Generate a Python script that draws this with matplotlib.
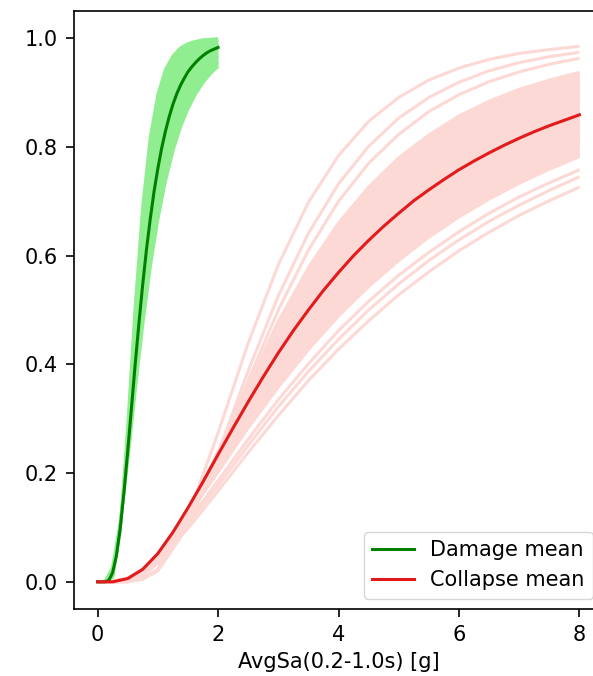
import matplotlib
matplotlib.use('Agg')
import matplotlib.pyplot as plt
import numpy as np

# ---- x grids ----
collapse_x = [0, 0.25, 0.5, 0.75, 1, 1.5, 2, 2.5, 3, 3.5, 4, 4.5, 5, 5.5, 6, 6.5, 7, 7.5, 8]
damage_x = [0, 0.125, 0.25, 0.375, 0.5, 0.625, 0.75, 0.875, 1, 1.125, 1.25, 1.375,
            1.5, 1.625, 1.75, 1.875, 2]
collapse_mean_x = [0, 0.25, 0.5, 0.75, 1, 1.25, 1.5, 1.75, 2, 2.25, 2.5, 2.75, 3, 3.25,
                   3.5, 3.75, 4, 4.25, 4.5, 4.75, 5, 5.25, 5.5, 5.75, 6, 6.25, 6.5,
                   6.75, 7, 7.25, 7.5, 7.75, 8]
damage_mean_x = [0, 0.0625, 0.125, 0.1875, 0.25, 0.3125, 0.375, 0.4375, 0.5, 0.5625,
                 0.625, 0.6875, 0.75, 0.8125, 0.875, 0.9375, 1, 1.0625, 1.125, 1.1875,
                 1.25, 1.3125, 1.375, 1.4375, 1.5, 1.5625, 1.625, 1.6875, 1.75,
                 1.8125, 1.875, 1.9375, 2]

# ---- collapse fragility samples (probability x1000) ----
collapse_samples = [
    [0, 0, 0, 5, 23, 120, 274, 439, 583, 698, 784, 847, 891, 923, 945, 961, 972, 979, 985],
    [0, 0, 0, 5, 20, 102, 237, 388, 526, 641, 732, 801, 853, 891, 919, 940, 955, 966, 974],
    [0, 0, 1, 6, 23, 104, 230, 370, 500, 610, 700, 770, 823, 865, 896, 920, 938, 952, 963],
    [0, 0, 2, 11, 34, 121, 240, 364, 479, 578, 660, 726, 780, 822, 857, 884, 906, 923, 937],
    [0, 0, 2, 14, 39, 125, 238, 354, 461, 554, 632, 697, 751, 794, 830, 859, 882, 902, 917],
    [0, 0, 4, 17, 44, 130, 237, 346, 446, 533, 608, 671, 724, 767, 803, 834, 859, 880, 897],
    [0, 0, 4, 18, 45, 128, 231, 335, 431, 516, 589, 651, 704, 748, 785, 816, 842, 864, 883],
    [0, 0, 5, 20, 47, 129, 228, 327, 419, 500, 571, 631, 683, 727, 764, 795, 822, 845, 865],
    [0, 0, 6, 22, 50, 131, 226, 320, 408, 486, 554, 613, 663, 707, 744, 776, 803, 827, 847],
    [0, 0, 6, 23, 51, 130, 221, 312, 397, 472, 539, 597, 647, 690, 727, 759, 787, 811, 832],
    [0, 0, 6, 23, 50, 125, 212, 299, 380, 454, 519, 575, 625, 668, 706, 738, 767, 792, 814],
    [0, 0, 7, 23, 51, 125, 211, 296, 376, 448, 512, 568, 618, 661, 698, 731, 760, 785, 807],
    [0, 1, 7, 24, 50, 121, 202, 283, 358, 427, 489, 543, 591, 634, 671, 704, 733, 759, 782],
    [0, 1, 6, 22, 46, 111, 186, 262, 335, 401, 462, 516, 564, 606, 644, 678, 708, 734, 758],
    [0, 0, 6, 20, 43, 105, 177, 251, 322, 387, 446, 500, 548, 591, 629, 663, 693, 720, 745],
    [0, 0, 6, 19, 40, 98, 167, 238, 306, 370, 428, 480, 528, 570, 609, 643, 674, 701, 726],
]

# ---- damage fragility samples (probability x1000) ----
damage_samples = [
    [0, 0, 8, 93, 286, 508, 692, 818, 896, 942, 967, 982, 990, 994, 997, 998, 999],
    [0, 0, 11, 95, 266, 463, 633, 760, 847, 904, 940, 963, 977, 985, 991, 994, 996],
    [0, 0, 15, 98, 252, 427, 584, 708, 799, 863, 907, 937, 957, 971, 980, 986, 990],
    [0, 0, 18, 101, 242, 399, 544, 662, 753, 821, 871, 907, 933, 951, 964, 974, 981],
    [0, 0, 22, 104, 234, 377, 510, 622, 711, 781, 834, 874, 905, 927, 945, 957, 967],
    [0, 1, 26, 108, 231, 366, 491, 598, 685, 754, 809, 851, 884, 909, 928, 943, 955],
    [0, 1, 25, 103, 222, 351, 473, 579, 666, 736, 792, 836, 870, 897, 918, 935, 948],
]

# ---- mean curves (probability x1000) ----
collapse_mean = [0, 0, 6, 23, 52, 91, 136, 184, 234, 283, 331, 377, 421, 462, 500, 536, 569,
                 600, 628, 654, 678, 701, 721, 740, 758, 774, 789, 803, 816, 828, 839, 849, 859]
damage_mean = [0, 0, 0, 3, 17, 48, 98, 164, 240, 320, 401, 477, 548, 612, 668, 718, 760,
               797, 828, 855, 878, 897, 913, 926, 938, 947, 955, 962, 968, 973, 977, 980, 983]

legend_labels = ['Damage mean', 'Collapse mean']
x_label = 'AvgSa(0.2-1.0s) [g]'
x_ticks = [0, 2, 4, 6, 8]
y_ticks = [0.0, 0.2, 0.4, 0.6, 0.8, 1.0]

PINK = '#fdd9d6'
LGREEN = '#90ee90'
FS = 15

fig = plt.figure(figsize=(5.93, 6.76), dpi=100)
ax = fig.add_axes([73.5 / 593, 67 / 676, 530 / 593, 598 / 676])

cs = np.array(collapse_samples) / 1000
ds = np.array(damage_samples) / 1000
core = cs[3:13]
ax.fill_between(collapse_x, core.min(axis=0), core.max(axis=0), color=PINK, lw=0)
ax.fill_between(damage_x, ds.min(axis=0), ds.max(axis=0), color=LGREEN, lw=0)

for ys in ds:
    ax.plot(damage_x, ys, color=LGREEN, lw=2.2, solid_capstyle='butt')
for ys in cs:
    ax.plot(collapse_x, ys, color=PINK, lw=2.2, solid_capstyle='butt')

ax.plot(damage_mean_x, np.array(damage_mean) / 1000, color='green', lw=2.2, label=legend_labels[0])
ax.plot(collapse_mean_x, np.array(collapse_mean) / 1000, color='#e31a1c', lw=2.2, label=legend_labels[1])

ax.set_xlim(-0.4, 8.4)
ax.set_ylim(-0.05, 1.05)
ax.set_xticks(x_ticks)
ax.set_yticks(y_ticks)
ax.spines['right'].set_visible(False)
for s in ax.spines.values():
    s.set_linewidth(1.2)
ax.tick_params(labelsize=FS, length=5.6, width=1.2, pad=5.6)
ax.set_xlabel(x_label, fontsize=FS, labelpad=5)
ax.legend(loc='lower right', fontsize=FS, handlelength=2.0, borderaxespad=0.5)

fig.savefig('out.png', dpi=100)
